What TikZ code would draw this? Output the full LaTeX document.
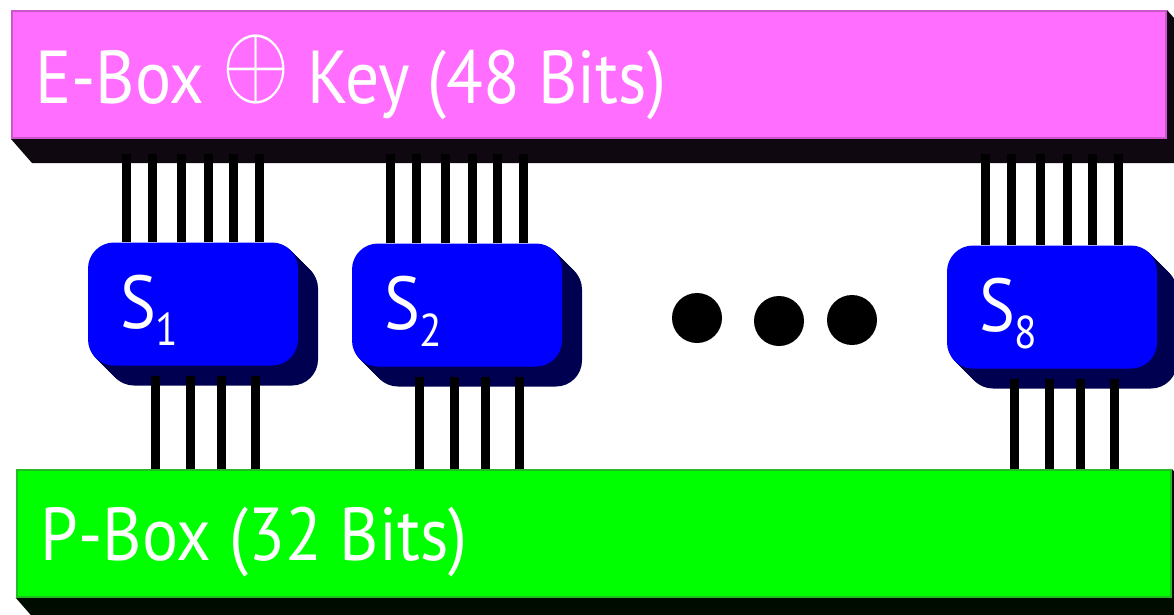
\documentclass[tikz,border=0pt]{standalone}
\usepackage{fontspec}
\setmainfont{PT Sans}
\usetikzlibrary{backgrounds}

\definecolor{ekey}{HTML}{FF6EFF}
\definecolor{ekeyline}{HTML}{CC55CC}
\definecolor{ekeyshade}{HTML}{100810}
\definecolor{perm}{HTML}{00FF00}
\definecolor{permline}{HTML}{22BB22}
\definecolor{permshade}{HTML}{000C00}
\definecolor{sblue}{HTML}{0000FF}
\definecolor{sshadecol}{HTML}{000050}

\newcommand{\bigxor}{\raisebox{7pt}{\scalebox{9.6}[10.4]{\fontsize{10}{12}\selectfont$\oplus$}}}

\tikzset{
  bar/.style={minimum width=1154, minimum height=127, line width=2},
  bartext/.style={anchor=base west, text=white, inner sep=0, font=\fontsize{75}{80}\selectfont},
  sface/.style={fill=sblue, rounded corners=26, minimum width=210, minimum height=123},
  sshade/.style={fill=sshadecol, rounded corners=26, minimum width=210, minimum height=123},
  slabel/.style={anchor=base west, text=white, inner sep=0, font=\fontsize{75}{80}\selectfont},
  wire/.style={line width=9},
  dot/.style={circle, fill=black, minimum size=50, inner sep=0}
}

\begin{document}
\begin{tikzpicture}[x=1pt, y=-1pt]
    \useasboundingbox (0,0) rectangle (1174,615);

    \node[bar, fill=ekey, draw=ekeyline] (ebox) at (589,74.5) {};
    \node[bar, fill=perm, draw=permline] (pbox) at (593.5,533) {};
    \node[bartext] (etext) at ([shift={(24,-36)}]ebox.south west)
        {\scalebox{0.9}[1]{E-Box \bigxor{} Key (48 Bits)}};
    \node[bartext] (ptext) at ([shift={(25,-37)}]pbox.south west)
        {\scalebox{0.9}[1]{P-Box (32 Bits)}};

    \begin{scope}[on background layer]
        \fill[ekeyshade] (ebox.south west) -- ([shift={(21,24)}]ebox.south west)
            -- ([shift={(21,24)}]ebox.south east) -- ([shift={(21,24)}]ebox.north east)
            -- (ebox.north east) -- (ebox.south east) -- cycle;
        \fill[permshade] (pbox.south west) -- ([shift={(21,24)}]pbox.south west)
            -- ([shift={(21,24)}]pbox.south east) -- ([shift={(21,24)}]pbox.north east)
            -- (pbox.north east) -- (pbox.south east) -- cycle;
    \end{scope}

    % the eight s-boxes, only 1, 2 and 8 are drawn
    \foreach \n/\x/\y in {1/193/304, 2/457/305, 8/1052/307} {
        \begin{scope}[on background layer]
            \foreach \d in {1,...,20}
                \node[sshade] at (\x+\d,\y+\d) {};
        \end{scope}
        \node[sface] (s\n) at (\x,\y) {};
        \node[slabel] at ([shift={(32,86)}]s\n.north west)
            {\scalebox{0.9}[1]{S\raisebox{-17pt}{\fontsize{46}{46}\selectfont\n}}};
        \foreach \dx in {-67,-41,-12,15,40,66}
            \draw[wire] ([xshift=\dx]s\n.north |- ebox.south) ++(0,15) -- ([xshift=\dx]s\n.north);
        \foreach \dx in {-38,-3,28,62}
            \draw[wire] ([shift={(\dx,10)}]s\n.south) -- ([xshift=\dx]s\n.south |- pbox.north);
    }

    \node[dot] (dot1) at (697,318) {};
    \node[dot] (dot2) at (779,321) {};
    \node[dot] (dot3) at (852,320) {};
\end{tikzpicture}
\end{document}
